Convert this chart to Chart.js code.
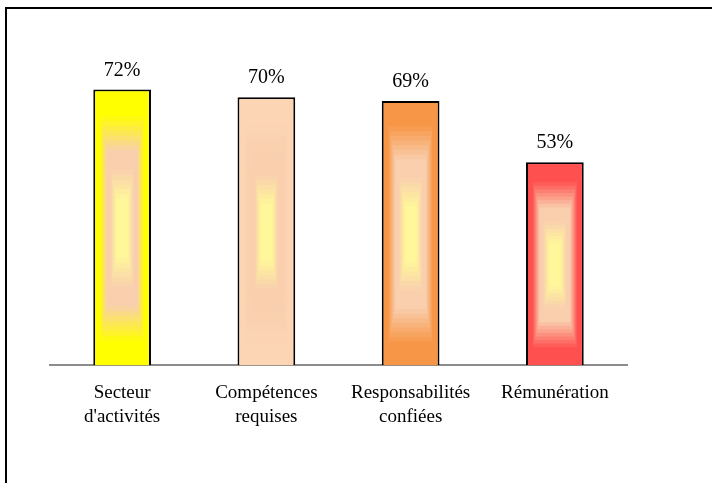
<!DOCTYPE html>
<html>
<head>
<meta charset="utf-8">
<script src="https://cdn.jsdelivr.net/npm/chart.js@4/dist/chart.umd.min.js"></script>
<style>
    html, body { margin: 0; padding: 0; background: #fff; overflow: hidden; }
    #wrap { position: relative; width: 712px; height: 483px; }
</style>
</head>
<body>
<div id="wrap"><canvas id="barChart"></canvas></div>
<script>
var categories = [
    ["Secteur", "d'activités"],
    ["Compétences", "requises"],
    ["Responsabilités", "confiées"],
    ["Rémunération"]
];
var percentValues = [72, 70, 69, 53];
var edgeColors = ["#ffff00", "#fcd5b4", "#f79646", "#ff5050"];

var serif = "'Liberation Serif', 'Times New Roman', serif";

function hexToRgb(h) {
    return [parseInt(h.substr(1, 2), 16), parseInt(h.substr(3, 2), 16), parseInt(h.substr(5, 2), 16)];
}

// colour at t (0 = bar edge, 1 = bar centre)
function ringColor(edge, t) {
    var peach = hexToRgb("#f9cfae"), light = hexToRgb("#fff799");
    var stops = [[0, hexToRgb(edge)], [0.15, hexToRgb(edge)], [0.42, peach], [0.55, peach], [0.78, light], [1.01, light]];
    for (var i = 1; i < stops.length; i++) {
        if (t <= stops[i][0]) {
            var a = stops[i - 1], b = stops[i];
            var k = (t - a[0]) / (b[0] - a[0]);
            var c = [0, 1, 2].map(function (j) { return Math.round(a[1][j] + (b[1][j] - a[1][j]) * k); });
            return "rgb(" + c.join(",") + ")";
        }
    }
    return "#fff799";
}

// frame around the whole chart
var framePlugin = {
    id: "frame",
    beforeDraw: function (chart) {
        var ctx = chart.ctx;
        ctx.save();
        ctx.strokeStyle = "#000";
        ctx.lineWidth = 2;
        ctx.beginPath();
        ctx.moveTo(6, chart.height + 5);
        ctx.lineTo(6, 8);
        ctx.lineTo(chart.width + 5, 8);
        ctx.stroke();
        ctx.restore();
    }
};

// rectangular "from centre" fill inside each bar, then the value above it
var barFillPlugin = {
    id: "barFill",
    afterDatasetsDraw: function (chart) {
        var ctx = chart.ctx;
        var meta = chart.getDatasetMeta(0);
        var bw = 2;
        ctx.save();
        meta.data.forEach(function (bar, idx) {
            var p = bar.getProps(["x", "y", "base", "width"], true);
            var left = p.x - p.width / 2 + bw;
            var right = p.x + p.width / 2 - bw;
            var top = p.y + bw;
            var bottom = p.base;
            var iw = right - left, ih = bottom - top;
            var steps = 28;
            for (var s = 0; s < steps; s++) {
                var t = s / steps;
                var dx = t * iw / 2, dy = t * ih / 2;
                ctx.fillStyle = ringColor(edgeColors[idx], t);
                ctx.fillRect(left + dx, top + dy, iw - 2 * dx, ih - 2 * dy);
            }
            ctx.fillStyle = "#000";
            ctx.font = "20px " + serif;
            ctx.textAlign = "center";
            ctx.textBaseline = "alphabetic";
            ctx.fillText(percentValues[idx] + "%", p.x, p.y - 14);
        });
        ctx.restore();
    }
};

var barChartCanvas = document.getElementById("barChart").getContext("2d");
var barChart = new Chart(barChartCanvas, {
    type: "bar",
    data: {
        labels: categories,
        datasets: [{
            data: percentValues,
            backgroundColor: edgeColors,
            borderColor: "#000",
            borderWidth: 2,
            borderSkipped: "bottom",
            barPercentage: 0.4,
            categoryPercentage: 1
        }]
    },
    options: {
        responsive: true,
        maintainAspectRatio: false,
        animation: false,
        layout: { padding: { left: 50, right: 85, top: 59, bottom: 38 } },
        plugins: {
            legend: { display: false },
            tooltip: { enabled: false }
        },
        scales: {
            x: {
                z: 1,
                grid: { display: false, drawTicks: false },
                border: { display: true, color: "#8c8c8c", width: 2 },
                ticks: {
                    color: "#000",
                    padding: 16,
                    maxRotation: 0,
                    autoSkip: false,
                    font: { family: serif, size: 19, lineHeight: 1.26 }
                }
            },
            y: {
                display: false,
                min: 0,
                max: 80
            }
        }
    },
    plugins: [framePlugin, barFillPlugin]
});
</script>
</body>
</html>
